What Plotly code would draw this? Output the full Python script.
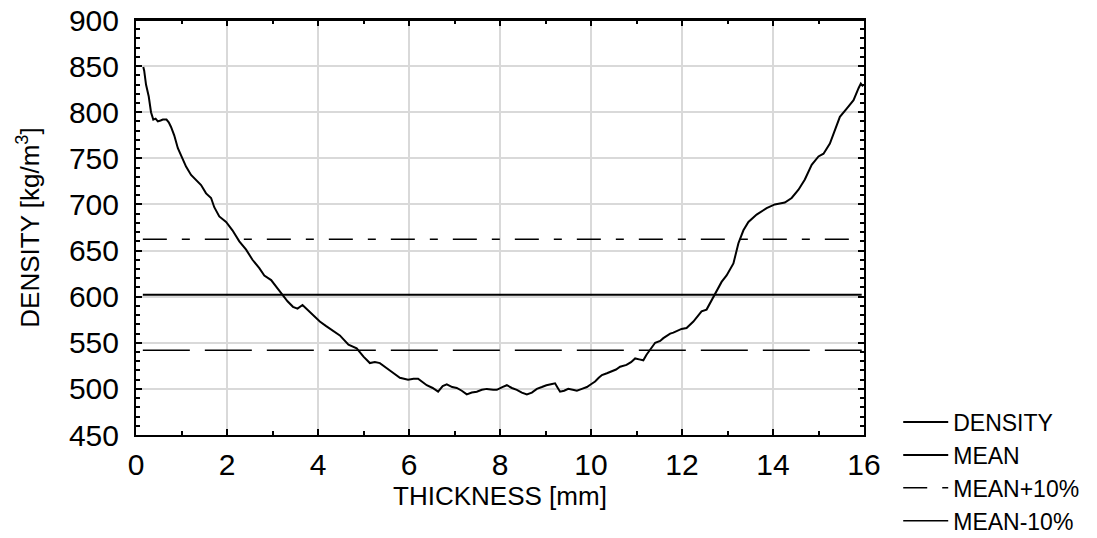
import plotly.graph_objects as go

# Density profile
thickness_mm = [0.16, 0.18, 0.22, 0.28, 0.33, 0.38, 0.43, 0.48, 0.54, 0.59, 0.67, 0.72, 0.77, 0.84,
                0.92, 1.03, 1.10, 1.21, 1.32, 1.43, 1.54, 1.65, 1.72, 1.83, 1.98, 2.12, 2.27,
                2.42, 2.56, 2.71, 2.82, 2.97, 3.11, 3.22, 3.33, 3.45, 3.55, 3.66, 3.81, 3.96,
                4.04, 4.18, 4.30, 4.48, 4.67, 4.85, 5.00, 5.14, 5.25, 5.36, 5.58, 5.80, 5.98,
                6.10, 6.20, 6.39, 6.52, 6.64, 6.74, 6.83, 6.95, 7.05, 7.16, 7.27, 7.38, 7.49,
                7.60, 7.71, 7.85, 7.93, 8.05, 8.15, 8.26, 8.37, 8.48, 8.59, 8.70, 8.81, 8.92,
                9.02, 9.12, 9.21, 9.27, 9.32, 9.41, 9.50, 9.60, 9.69, 9.80, 9.91, 10.00, 10.09,
                10.17, 10.24, 10.35, 10.45, 10.55, 10.64, 10.78, 10.88, 10.97, 11.06, 11.15,
                11.22, 11.30, 11.41, 11.52, 11.59, 11.74, 11.81, 11.99, 12.10, 12.25, 12.43,
                12.54, 12.69, 12.87, 12.98, 13.13, 13.24, 13.35, 13.46, 13.64, 13.86, 14.04,
                14.15, 14.26, 14.41, 14.56, 14.70, 14.85, 15.00, 15.11, 15.25, 15.36, 15.47,
                15.62, 15.77, 15.88, 15.93, 15.98]
density = [849, 845, 830, 817, 800, 792, 793, 790, 791, 792, 792, 789, 784, 775,
           761, 748, 741, 732, 727, 721, 712, 707, 697, 687, 681, 672, 660,
           651, 640, 631, 623, 618, 609, 602, 595, 589, 587, 591, 584, 576,
           573, 568, 564, 558, 548, 544, 535, 528, 529, 528, 520, 512, 510,
           511, 511, 504, 501, 497, 503, 505, 502, 501, 498, 494, 496, 497,
           499, 500, 499, 499, 502, 504, 501, 499, 496, 494, 496, 500, 502,
           504, 505, 506, 501, 497, 498, 500, 499, 498, 500, 502, 505, 508,
           512, 515, 517, 519, 521, 524, 526, 529, 533, 532, 531,
           537, 542, 550, 552, 555, 560, 561, 565, 566, 573, 584,
           586, 600, 616, 623, 636, 658, 672, 681, 689, 696, 700,
           701, 702, 707, 716, 727, 743, 752, 755, 766, 781, 795,
           804, 813, 826, 831, 828]

mean_value = 602.0
mean_x = [0.15, 15.95]
series_names = ["DENSITY", "MEAN", "MEAN+10%", "MEAN-10%"]
x_ticks = [0, 2, 4, 6, 8, 10, 12, 14, 16]
y_ticks = [450, 500, 550, 600, 650, 700, 750, 800, 850, 900]

FONT = "Liberation Sans, Arial, sans-serif"

fig = go.Figure()
fig.add_trace(go.Scatter(x=thickness_mm, y=density, mode="lines", name=series_names[0],
                         line=dict(color="black", width=2)))
fig.add_trace(go.Scatter(x=mean_x, y=[mean_value, mean_value], mode="lines", name=series_names[1],
                         line=dict(color="black", width=2)))
fig.add_trace(go.Scatter(x=mean_x, y=[mean_value * 1.1] * 2, mode="lines", name=series_names[2],
                         line=dict(color="black", width=1.5, dash="24px,15px,8px,15px")))
fig.add_trace(go.Scatter(x=mean_x, y=[mean_value * 0.9] * 2, mode="lines", name=series_names[3],
                         line=dict(color="black", width=1.5, dash="47px,15px")))

axis_common = dict(showline=True, linecolor="black", linewidth=2, mirror="allticks",
                   ticks="inside", ticklen=6, tickwidth=2, tickcolor="black", automargin=False,
                   showgrid=True, gridcolor="#d9d9d9", gridwidth=2, zeroline=False,
                   tickfont=dict(family=FONT, size=30, color="black"))

fig.update_xaxes(range=[0, 16], tickvals=x_ticks, ticklabelstandoff=2,
                 minor=dict(ticks="inside", dtick=1, ticklen=4, tickwidth=2, tickcolor="black", showgrid=False),
                 title=dict(text="THICKNESS [mm]", font=dict(family=FONT, size=26, color="black"), standoff=6),
                 **axis_common)
fig.update_yaxes(range=[450, 900], tickvals=y_ticks, ticklabelstandoff=9,
                 minor=dict(ticks="inside", dtick=10, ticklen=4, tickwidth=2, tickcolor="black", showgrid=False),
                 title=dict(text="DENSITY [kg/m<sup>3</sup>]", font=dict(family=FONT, size=26, color="black"), standoff=22),
                 **axis_common)

# frame line on top of the plot area (paper coordinates)
fig.add_shape(type="line", xref="paper", yref="paper", x0=0, x1=1, y0=1, y1=1,
              line=dict(color="black", width=2), layer="above")

fig.update_layout(
    width=1097, height=538,
    margin=dict(l=136, r=233, t=20, b=103, autoexpand=False),
    paper_bgcolor="white", plot_bgcolor="white",
    font=dict(family=FONT, color="black"),
    legend=dict(x=1.047, xanchor="left", y=0.083, yanchor="top",
                font=dict(family=FONT, size=23, color="black"),
                bgcolor="rgba(0,0,0,0)", tracegroupgap=0, itemwidth=45),
    showlegend=True,
)

fig.write_html("out.html", config={"displayModeBar": False},
               post_script="document.body.style.margin='0';document.body.style.overflow='hidden';")
